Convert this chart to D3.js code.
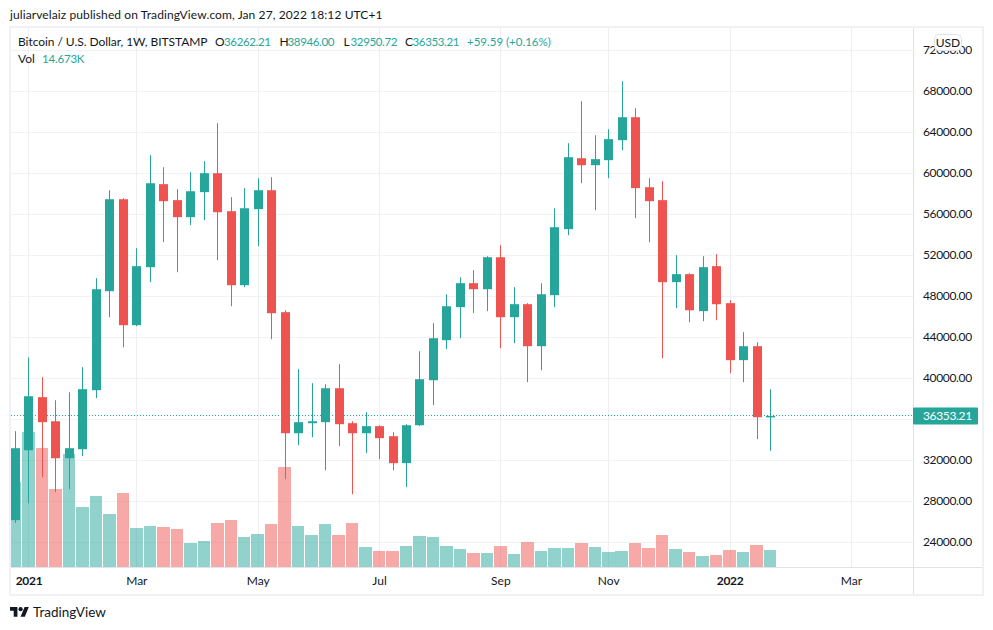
<!DOCTYPE html>
<html>
<head>
<meta charset="utf-8">
<script src="https://cdn.jsdelivr.net/npm/d3@7"></script>
<style>
    html, body { margin: 0; padding: 0; background: #fff; }
    svg { display: block; }
    text { font-family: Lato, "Noto Sans", sans-serif; font-size: 12px; fill: #131722; }
</style>
</head>
<body>
<div id="chart"></div>
<script>
// weekly candles, Dec 28 2020 onwards
const firstWeek = '2020-12-28';
const opens = [26180, 33000, 38180, 35830, 32220, 33100, 38860, 48520, 57490, 45200, 50860, 58960, 57400, 55740, 58180, 60030, 56320, 49100, 56520, 58370, 46470, 34660, 35640, 35740, 39050, 35640, 34660, 35350, 34370, 31740, 35440, 39830, 43740, 46960, 49300, 48710, 51830, 45980, 47250, 43150, 48130, 54570, 61490, 60810, 61300, 63250, 65490, 58660, 57400, 49400, 50180, 46570, 50960, 47350, 41790, 43150, 36262.21];
const highs = [34860, 42050, 40130, 37880, 38660, 41100, 49790, 58370, 57590, 52710, 61790, 60610, 58470, 60130, 61200, 64910, 57690, 58570, 59540, 59640, 46660, 40910, 39540, 39440, 41400, 35830, 36710, 35450, 34760, 35540, 42660, 45400, 48220, 49880, 50570, 51930, 53000, 48910, 47350, 49300, 56610, 62960, 67050, 63740, 64320, 69000, 66370, 59540, 59250, 52030, 50270, 51930, 52130, 47640, 44520, 43540, 38946];
const lows = [25910, 27830, 30370, 28910, 29200, 32420, 38080, 45980, 43050, 45100, 49400, 53300, 50370, 54960, 55440, 51540, 47050, 48910, 52910, 43830, 30180, 33490, 34270, 31050, 33400, 28710, 32710, 32130, 31050, 29400, 35350, 37400, 42860, 43930, 46370, 46570, 42960, 43440, 39640, 40810, 46960, 53980, 59050, 56420, 59540, 62270, 55640, 53300, 41980, 46860, 45490, 45590, 45690, 40520, 39640, 34080, 32950.72];
const closes = [33200, 38270, 35740, 32220, 33200, 38960, 48710, 57490, 45200, 50960, 59050, 57300, 55740, 58270, 60030, 56220, 49100, 56610, 58370, 46370, 34660, 35740, 35830, 39050, 35540, 34660, 35350, 34180, 31740, 35440, 39930, 43930, 47050, 49300, 48710, 51830, 45980, 47250, 43150, 48220, 54760, 61590, 60810, 61400, 63350, 65490, 58570, 57300, 49400, 50180, 46660, 50860, 47250, 41790, 43150, 36220, 36353.21];
const volumes = [73.4, 116.5, 102.7, 67.3, 97.5, 51.8, 61.3, 45.7, 63.9, 33.7, 35.4, 34.5, 32.8, 20.7, 22.4, 38.0, 40.6, 25.9, 28.5, 37.1, 86.3, 35.4, 27.6, 37.1, 27.6, 38.0, 17.3, 13.8, 13.8, 18.1, 26.8, 25.9, 18.1, 15.5, 12.1, 12.1, 18.1, 11.2, 21.6, 13.8, 16.4, 16.4, 20.7, 17.3, 12.9, 13.8, 20.7, 16.4, 27.6, 15.5, 12.9, 9.5, 10.4, 14.7, 12.9, 19.0, 14.673];

const gridPrices = [24000, 28000, 32000, 36000, 40000, 44000, 48000, 52000, 56000, 60000, 64000, 68000, 72000];
// 36000 has its grid line but the last price tag takes the place of its label
const priceTicks = [24000, 28000, 32000, 40000, 44000, 48000, 52000, 56000, 60000, 64000, 68000, 72000];
const timeTicks = ['2021-01-04', '2021-03-01', '2021-05-03', '2021-07-05', '2021-09-06', '2021-11-01', '2022-01-03', '2022-03-07'];
const timeLabels = ['2021', 'Mar', 'May', 'Jul', 'Sep', 'Nov', '2022', 'Mar'];
const lastPrice = closes[closes.length - 1];

const width = 993;
const height = 630;
const plot = { left: 11, right: 913, top: 28, bottom: 567 };
const UP = '#26a69a';
const DOWN = '#ef5350';
const FRAME = '#f0f1f6';
const GRID_H = '#f1f2f5';
const GRID_V = '#eeeff2';
const EDGE = '#e0e3eb';

const weeks = opens.map((d, i) => d3.utcDay.offset(new Date(firstWeek), i * 7));

const x = d3.scaleUtc()
    .domain([weeks[0], weeks[weeks.length - 1]])
    .range([15.5, 770.5]);

const y = d3.scaleLinear()
    .domain([24000, 64000])
    .range([542.5, 132.5]);

const volY = d3.scaleLinear()
    .domain([0, 116.5])
    .range([567, 432]);

// snap wicks and bodies on the pixel grid
const snap = d => Math.floor(x(d)) + 0.5;
const lastY = Math.floor(y(lastPrice)) + 0.5;
const candleColor = i => closes[i] >= opens[i] ? UP : DOWN;

const svg = d3.select('#chart').append('svg')
    .attr('width', width)
    .attr('height', height);

svg.append('defs').append('clipPath')
    .attr('id', 'plot-clip')
    .append('rect')
    .attr('x', plot.left)
    .attr('y', plot.top)
    .attr('width', plot.right - plot.left)
    .attr('height', plot.bottom - plot.top);

svg.append('text')
    .attr('x', 10)
    .attr('y', 19)
    .style('letter-spacing', '0.1px')
    .text('juliarvelaiz published on TradingView.com, Jan 27, 2022 18:12 UTC+1');

// Frame
svg.append('rect')
    .attr('x', 10)
    .attr('y', 27)
    .attr('width', 973)
    .attr('height', 568)
    .attr('fill', 'none')
    .attr('stroke', FRAME)
    .attr('stroke-width', 2);

// Grid
const grid = svg.append('g').attr('class', 'grid');
grid.selectAll('.h-grid').data(gridPrices)
    .join('line')
    .attr('class', 'h-grid')
    .attr('x1', plot.left)
    .attr('x2', plot.right)
    .attr('y1', d => y(d))
    .attr('y2', d => y(d))
    .attr('stroke', GRID_H);
grid.selectAll('.v-grid').data(timeTicks)
    .join('line')
    .attr('class', 'v-grid')
    .attr('x1', d => snap(new Date(d)))
    .attr('x2', d => snap(new Date(d)))
    .attr('y1', plot.top)
    .attr('y2', plot.bottom)
    .attr('stroke', GRID_V);

const chart = svg.append('g').attr('clip-path', 'url(#plot-clip)');

// Volume
chart.append('g').attr('class', 'volume')
    .selectAll('rect').data(volumes)
    .join('rect')
    .attr('x', (d, i) => x(weeks[i]) - 6.7)
    .attr('width', 12.5)
    .attr('y', d => volY(d))
    .attr('height', d => volY(0) - volY(d))
    .attr('fill', (d, i) => candleColor(i))
    .attr('fill-opacity', 0.5)
    .attr('shape-rendering', 'crispEdges');

// Last price line
chart.append('line')
    .attr('x1', plot.left)
    .attr('x2', plot.right)
    .attr('y1', lastY)
    .attr('y2', lastY)
    .attr('stroke', UP)
    .attr('stroke-dasharray', '1 2');

// Candles
const candles = chart.append('g').attr('class', 'candles')
    .selectAll('g').data(weeks)
    .join('g');

candles.append('line')
    .attr('x1', d => snap(d))
    .attr('x2', d => snap(d))
    .attr('y1', (d, i) => y(highs[i]))
    .attr('y2', (d, i) => y(lows[i]))
    .attr('stroke', (d, i) => candleColor(i));

candles.append('rect')
    .attr('x', d => snap(d) - 4.5)
    .attr('width', 9)
    .attr('y', (d, i) => y(Math.max(opens[i], closes[i])))
    .attr('height', (d, i) => Math.max(1.5, Math.abs(y(opens[i]) - y(closes[i]))))
    .attr('fill', (d, i) => candleColor(i));

// Axis lines
svg.append('line')
    .attr('x1', plot.left).attr('x2', 982)
    .attr('y1', plot.bottom + 0.5).attr('y2', plot.bottom + 0.5)
    .attr('stroke', EDGE);
svg.append('line')
    .attr('x1', plot.right + 0.5).attr('x2', plot.right + 0.5)
    .attr('y1', plot.top).attr('y2', 594)
    .attr('stroke', EDGE);

// Price axis
const priceAxis = svg.append('g')
    .attr('class', 'price-axis')
    .attr('transform', `translate(${plot.right},-1)`)
    .call(d3.axisRight(y)
        .tickValues(priceTicks)
        .tickSize(0)
        .tickPadding(10)
        .tickFormat(d3.format('.2f')));
priceAxis.select('.domain').remove();
priceAxis.selectAll('text')
    .style('font-size', '12px')
    .style('letter-spacing', '-0.35px');

// Time axis
const timeAxis = svg.append('g')
    .attr('class', 'time-axis')
    .attr('transform', `translate(-0.5,${plot.bottom})`)
    .call(d3.axisBottom(x)
        .tickValues(timeTicks.map(d => new Date(d)))
        .tickSize(0)
        .tickPadding(9)
        .tickFormat((d, i) => timeLabels[i]));
timeAxis.select('.domain').remove();
timeAxis.selectAll('text')
    .style('font-size', '12px')
    .style('letter-spacing', (d, i) => timeLabels[i].length === 4 ? '-0.3px' : '0')
    .style('font-weight', (d, i) => timeLabels[i].length === 4 ? '700' : '400');

// Last price tag
svg.append('rect')
    .attr('x', plot.right)
    .attr('y', y(lastPrice) - 8.5)
    .attr('width', 65)
    .attr('height', 17)
    .attr('rx', 1)
    .attr('fill', UP);
svg.append('text')
    .attr('x', plot.right + 10)
    .attr('y', y(lastPrice) + 4)
    .style('fill', '#fff')
    .style('letter-spacing', '-0.35px')
    .text(d3.format('.2f')(lastPrice));

// USD badge
svg.append('rect')
    .attr('x', 934.5)
    .attr('y', 34.5)
    .attr('width', 27)
    .attr('height', 16)
    .attr('rx', 4)
    .attr('fill', '#fff')
    .attr('stroke', EDGE);
svg.append('text')
    .attr('x', 948)
    .attr('y', 46.5)
    .attr('text-anchor', 'middle')
    .text('USD');

// Legend
const legendDark = [
    { x: 18, label: 'Bitcoin / U.S. Dollar, 1W, BITSTAMP' },
    { x: 215, label: 'O' },
    { x: 279.5, label: 'H' },
    { x: 343.5, label: 'L' },
    { x: 405, label: 'C' }
];
const legendValues = [
    { x: 224, label: '36262.21' },
    { x: 287.5, label: '38946.00' },
    { x: 350.5, label: '32950.72' },
    { x: 412.5, label: '36353.21' }
];
svg.append('g').selectAll('text').data(legendDark)
    .join('text')
    .attr('x', d => d.x)
    .attr('y', 46)
    .style('letter-spacing', '-0.05px')
    .text(d => d.label);
svg.append('g').selectAll('text').data(legendValues)
    .join('text')
    .attr('x', d => d.x)
    .attr('y', 46)
    .style('fill', UP)
    .style('font-size', '11.5px')
    .style('letter-spacing', '-0.35px')
    .text(d => d.label);
svg.append('text').attr('x', 467).attr('y', 46)
    .style('fill', UP)
    .style('font-size', '11.5px')
    .text('+59.59 (+0.16%)');
svg.append('text').attr('x', 18).attr('y', 63).text('Vol');
svg.append('text').attr('x', 42).attr('y', 63)
    .style('fill', UP)
    .style('font-size', '11.5px')
    .style('letter-spacing', '-0.2px')
    .text('14.673K');

// TradingView logo
const logo = svg.append('g')
    .attr('transform', 'translate(10,605) scale(0.53)')
    .attr('fill', '#131722');
logo.append('path').attr('d', 'M14 22H7V11H0V4h14v18zM28 22h-8l7.5-18h8L28 22z');
logo.append('circle').attr('cx', 20).attr('cy', 8).attr('r', 4);
svg.append('text')
    .attr('x', 33)
    .attr('y', 617)
    .style('font-size', '13.5px')
    .text('TradingView');
</script>
</body>
</html>
